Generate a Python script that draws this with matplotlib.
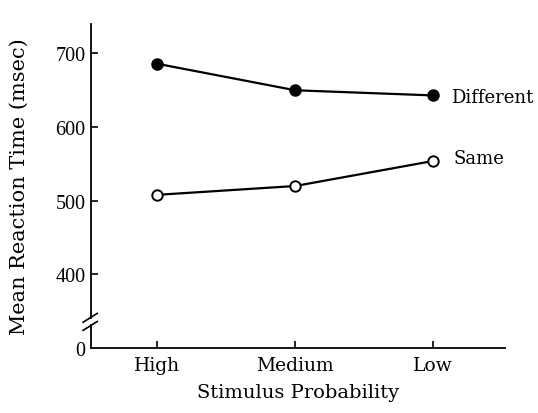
import numpy as np
import matplotlib.pyplot as plt

plt.rcParams['font.family'] = ['DejaVu Serif']

categories = ['High', 'Medium', 'Low']
different = [686, 650, 643]
same = [508, 520, 554]
y_ticks = [400, 500, 600, 700]

# the "0" sits below the break, drawn at this position on the axis
zero_pos = 300

fig = plt.figure(figsize=(5.38, 4.14), dpi=100)
ax = fig.add_axes([91 / 538, 1 - 349 / 414, 414 / 538, 324 / 414])

x = np.arange(len(categories))
ax.plot(x, different, color='black', lw=1.6, marker='o', ms=8,
        mfc='black', mec='black')
ax.plot(x, same, color='black', lw=1.6, marker='o', ms=7.5,
        mfc='white', mec='black', mew=1.4)

ax.text(x[-1] + 0.13, different[-1] - 2, 'Different', fontsize=13, va='center')
ax.text(x[-1] + 0.15, same[-1] + 4, 'Same', fontsize=13, va='center')

ax.set_xlim(-0.48, 2.52)
ax.set_ylim(zero_pos, 740)
ax.set_xticks(x)
ax.set_xticklabels(categories, fontsize=13.5)
ax.set_yticks([zero_pos] + y_ticks)
ax.set_yticklabels(['0'] + [str(v) for v in y_ticks],
                   family='Liberation Serif', fontsize=14.5)
ax.tick_params(direction='in', length=5, width=1.2, pad=6)
ax.tick_params(axis='y', pad=4)
ax.yaxis.get_major_ticks()[0].tick1line.set_visible(False)

for s in ['top', 'right', 'left']:
    ax.spines[s].set_visible(False)
ax.spines['bottom'].set_linewidth(1.3)

# left axis with a break
tr = ax.get_yaxis_transform()
ax.plot([0, 0], [zero_pos, 331], transform=tr, color='black', lw=1.3, clip_on=False)
ax.plot([0, 0], [341, 740], transform=tr, color='black', lw=1.3, clip_on=False)
ax.plot([-0.019, 0.015], [324, 336], transform=tr, color='black', lw=1.2, clip_on=False)
ax.plot([-0.019, 0.015], [335, 347], transform=tr, color='black', lw=1.2, clip_on=False)

ax.set_xlabel('Stimulus Probability', fontsize=14, labelpad=6)
ax.set_ylabel('Mean Reaction Time (msec)', fontsize=15, labelpad=19)

fig.savefig('out.png', dpi=100)
